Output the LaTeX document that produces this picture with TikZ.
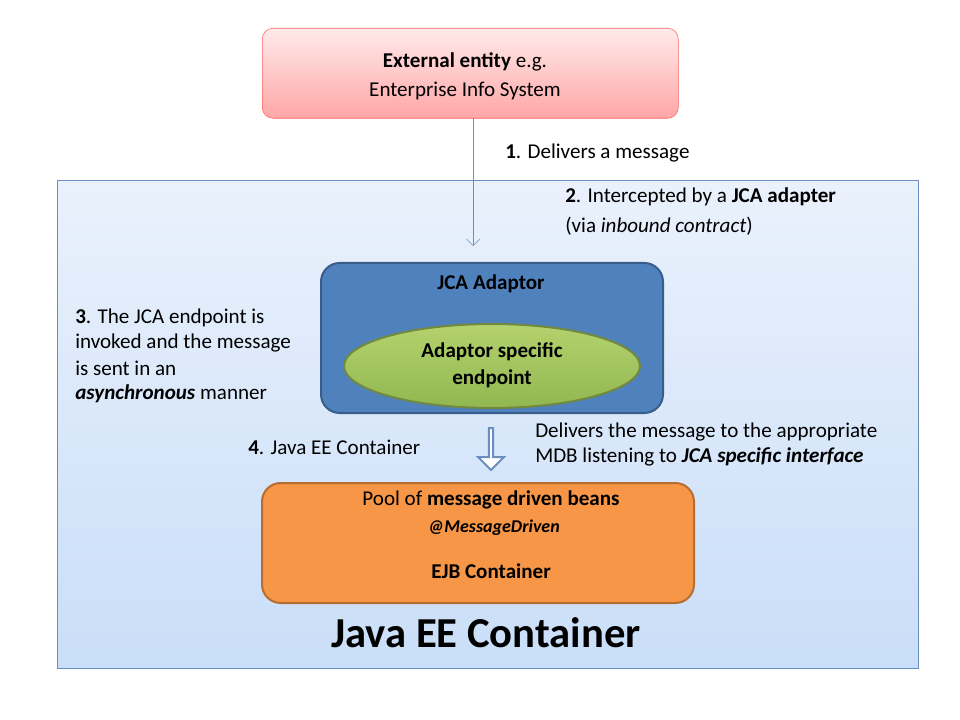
\documentclass[tikz,border=0pt]{standalone}
\usepackage{fontspec}
\setmainfont{Carlito}
\usetikzlibrary{shapes.geometric,shapes.arrows,arrows.meta}
\definecolor{blueb}{HTML}{6C8EBF}
\definecolor{ctop}{HTML}{EAF1FC}
\definecolor{cbot}{HTML}{C9DEF8}
\begin{document}
\begin{tikzpicture}[x=0.75pt,y=-0.75pt,
  txt/.style={font=\fontsize{15.8}{19}\selectfont,inner sep=0pt},
  lt/.style={txt,anchor=west,align=left}]
\useasboundingbox (0,0) rectangle (960,720);
\fill[white] (0,0) rectangle (960,720);
% container
\node[draw=blueb,top color=ctop,bottom color=cbot,minimum width=861*0.75pt,minimum height=488*0.75pt,anchor=north west,inner sep=0pt] (cont) at (57,180) {};
% external
\node[draw=red!60,rounded corners=8pt,top color=red!8,bottom color=red!35,minimum width=416*0.75pt,minimum height=90*0.75pt,anchor=north west,inner sep=0pt] (ext) at (262,28) {};
\node[txt] (ext1) at (465,62) {\textbf{External entity} e.g.};
\node[txt] (ext2) at (465,91) {Enterprise Info System};
\coordinate (arrEnd) at (473,246);
\draw[blueb,-{Straight Barb[length=5pt]}] (473,118) -- (arrEnd);
\node[lt] (l1) at (505,153) {\textbf{1}. Delivers a message};
\node[lt] (l2a) at (565,197) {\textbf{2}. Intercepted by a \textbf{JCA adapter}};
\node[lt] (l2b) at (565,226) {(via \textit{inbound contract})};
% JCA
\node[draw={rgb,255:red,56;green,93;blue,138},line width=1.5pt,fill={rgb,255:red,79;green,129;blue,189},rounded corners=14pt,minimum width=342*0.75pt,minimum height=150*0.75pt,anchor=north west,inner sep=0pt] (jca) at (320,262) {};
\node[txt] (jcat) at (491,284) {\textbf{JCA Adaptor}};
\node[ellipse,draw={rgb,255:red,113;green,137;blue,63},line width=1.5pt,top color={rgb,255:red,180;green,210;blue,110},bottom color={rgb,255:red,145;green,183;blue,80},minimum width=296*0.75pt,minimum height=84*0.75pt,inner sep=0pt] (ep) at (492,366) {};
\node[txt] (ep1) at (492,352) {\textbf{Adaptor specific}};
\node[txt] (ep2) at (492,379) {\textbf{endpoint}};
\node[lt] (l3a) at (75,318) {\textbf{3}. The JCA endpoint is};
\node[lt] (l3b) at (75,343) {invoked and the message};
\node[lt] (l3c) at (75,368) {is sent in an};
\node[lt] (l3d) at (75,394) {\textbf{\textit{asynchronous}} manner};
\node[lt] (l4) at (248,447) {\textbf{4}. Java EE Container};
\node[single arrow,shape border rotate=270,draw=blueb,line width=1.5pt,fill=white,minimum height=42*0.75pt,minimum width=26*0.75pt,single arrow head extend=4pt,single arrow tip angle=90,inner sep=0pt] (da) at (491,448) {};
\node[lt] (r1) at (535,432) {Delivers the message to the appropriate};
\node[lt] (r2) at (535,457) {MDB listening to \textbf{\textit{JCA specific interface}}};
% EJB
\node[draw={rgb,255:red,182;green,109;blue,49},line width=1.5pt,fill={rgb,255:red,247;green,150;blue,70},rounded corners=14pt,minimum width=432*0.75pt,minimum height=120*0.75pt,anchor=north west,inner sep=0pt] (ejb) at (261,482) {};
\node[txt] (e1) at (491,500) {Pool of \textbf{message driven beans}};
\node[txt,font=\fontsize{13.5}{15}\selectfont] (e2) at (494,528) {\textbf{\textit{@MessageDriven}}};
\node[txt] (e3) at (491,571) {\textbf{EJB Container}};
\node[inner sep=0pt,font=\fontsize{32}{36}\selectfont] (title) at (486,633) {\textbf{Java EE Container}};
\end{tikzpicture}
\end{document}
